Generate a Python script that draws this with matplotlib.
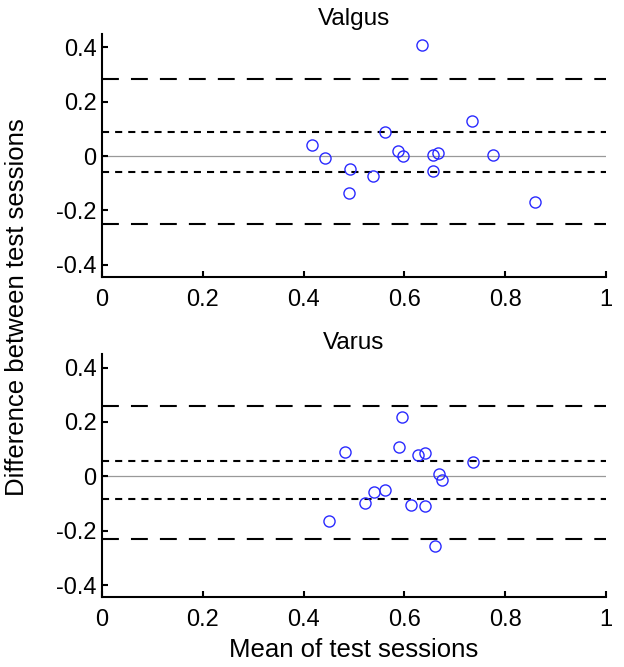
import matplotlib
matplotlib.use("Agg")
import matplotlib.pyplot as plt

plt.rcParams['font.family'] = ['Liberation Sans', 'DejaVu Sans']

# ---- data ----
valgus_mean = [0.635, 0.734, 0.561, 0.417, 0.442, 0.588, 0.598, 0.656, 0.667,
               0.775, 0.493, 0.538, 0.657, 0.491, 0.859]
valgus_diff = [0.410, 0.130, 0.087, 0.039, -0.006, 0.018, 0.002, 0.005, 0.011,
               0.004, -0.048, -0.075, -0.055, -0.135, -0.170]
valgus_limits = {"loa_upper": 0.282, "ci_upper": 0.087, "ci_lower": -0.060, "loa_lower": -0.250}

varus_mean = [0.596, 0.482, 0.589, 0.628, 0.640, 0.737, 0.669, 0.675, 0.539,
              0.561, 0.522, 0.614, 0.640, 0.450, 0.661]
varus_diff = [0.218, 0.089, 0.109, 0.078, 0.087, 0.053, 0.010, -0.013, -0.056,
              -0.050, -0.100, -0.104, -0.108, -0.163, -0.257]
varus_limits = {"loa_upper": 0.259, "ci_upper": 0.055, "ci_lower": -0.082, "loa_lower": -0.230}

titles = ["Valgus", "Varus"]
xticks = [0, 0.2, 0.4, 0.6, 0.8, 1]
xticklabels = ["0", "0.2", "0.4", "0.6", "0.8", "1"]
yticks = [-0.4, -0.2, 0, 0.2, 0.4]
yticklabels = ["-0.4", "-0.2", "0", "0.2", "0.4"]

fig = plt.figure(figsize=(6.24, 6.67), dpi=100)
ax1 = fig.add_axes([0.1635, 0.5847, 0.8075, 0.3643])
ax2 = fig.add_axes([0.1635, 0.1045, 0.8075, 0.3645])

panels = [(ax1, valgus_mean, valgus_diff, valgus_limits, titles[0], 6.5),
          (ax2, varus_mean, varus_diff, varus_limits, titles[1], 1.5)]

for ax, xm, yd, lim, title, tpad in panels:
    ax.axhline(0, color='#999999', lw=0.9, zorder=1)
    for key in ("loa_upper", "loa_lower"):
        ax.axhline(lim[key], color='black', lw=1.5, dashes=(8.1, 5.8), zorder=2)
    for key in ("ci_upper", "ci_lower"):
        ax.axhline(lim[key], color='black', lw=1.5, dashes=(3.4, 2.9), zorder=2)
    ax.plot(xm, yd, 'o', mfc='none', mec='#2a2aff', ms=8, mew=1.0, zorder=3)
    ax.set_xlim(0, 1)
    ax.set_ylim(-0.445, 0.449)
    ax.set_xticks(xticks)
    ax.set_xticklabels(xticklabels)
    ax.set_yticks(yticks)
    ax.set_yticklabels(yticklabels)
    ax.tick_params(direction='in', length=4, width=1.5, labelsize=17)
    ax.tick_params(axis='x', pad=8.5)
    ax.tick_params(axis='y', pad=4)
    for s in ('top', 'right'):
        ax.spines[s].set_visible(False)
    for s in ('left', 'bottom'):
        ax.spines[s].set_linewidth(1.5)
    ax.set_title(title, fontsize=17.5, pad=tpad)

ax2.set_xlabel("Mean of test sessions", fontsize=18.5, labelpad=5)
fig.text(0.028, 0.539, "Difference between test sessions", rotation=90,
         fontsize=18.5, ha='center', va='center')

fig.savefig("out.png", dpi=100)
